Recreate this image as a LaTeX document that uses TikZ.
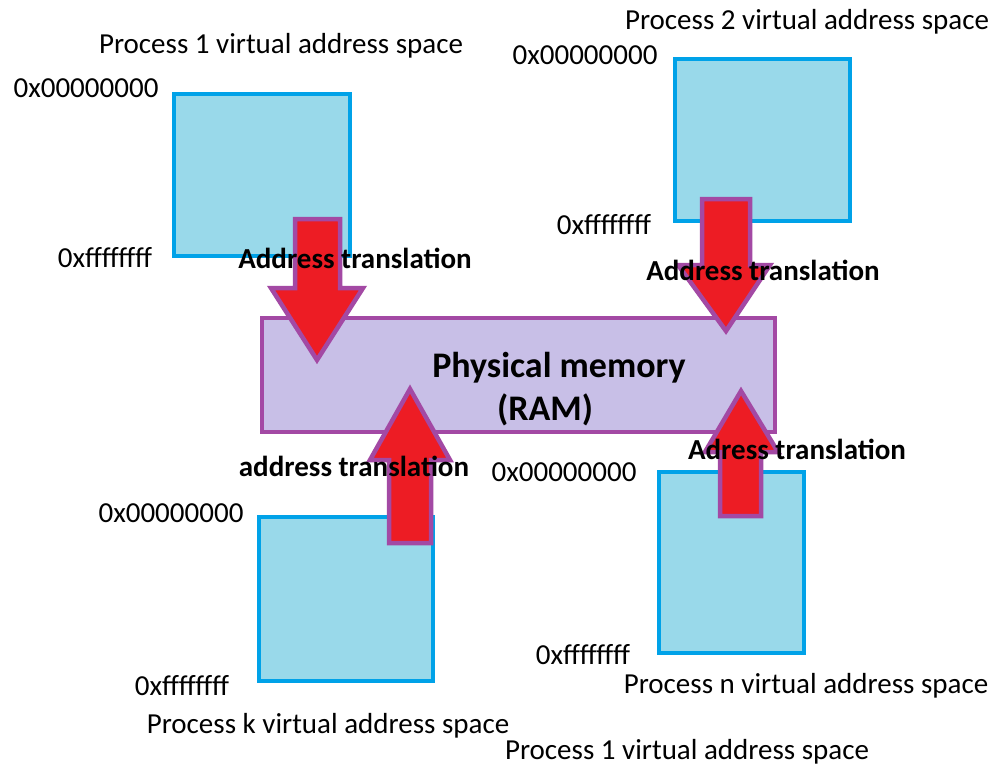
\documentclass[tikz,border=0pt]{standalone}
\usepackage{fontspec}
\setmainfont{Carlito}
\begin{document}
\begin{tikzpicture}[x=1pt,y=-1pt,
  vspace/.style={draw=cyanline,fill=cyanfill,line width=4.5pt},
  ram/.style={draw=purpline,fill=ramfill,line width=4.5pt},
  blockarrow/.style={draw=purpline,fill=arrowred,line width=4.5pt,line join=miter},
  lbl/.style={font=\fontsize{29}{34}\selectfont,inner sep=0pt},
  tlbl/.style={font=\fontsize{29}{34}\selectfont\bfseries,inner sep=0pt},
  biglbl/.style={font=\fontsize{36}{42}\selectfont\bfseries,inner sep=0pt}]
\definecolor{cyanline}{HTML}{00A2E8}
\definecolor{cyanfill}{HTML}{99D9EA}
\definecolor{purpline}{HTML}{A349A4}
\definecolor{ramfill}{HTML}{C8BFE7}
\definecolor{arrowred}{HTML}{ED1C24}
\useasboundingbox[fill=white] (0,0) rectangle (992,765);

% virtual address spaces
\draw[vspace] (174,94) rectangle (350,256);
\node (p1) at (262,175) {};
\draw[vspace] (675,59) rectangle (850,221);
\node (p2) at (762,140) {};
\draw[vspace] (259,517) rectangle (433,681);
\node (pk) at (346,599) {};
\draw[vspace] (659,472) rectangle (804,653);
\node (pn) at (731,562) {};

% physical memory
\draw[ram] (262,318) rectangle (775,432);
\node (ram) at (518,375) {};

% translation arrows
\draw[blockarrow] (295,219) -- (340,219) -- (340,288) -- (363,288) -- (317,360)
  -- (271,288) -- (295,288) -- cycle;
\draw[blockarrow] (702,199) -- (750,199) -- (750,265) -- (770,265) -- (726,331)
  -- (678,265) -- (702,265) -- cycle;
\draw[blockarrow] (389,543) -- (431,543) -- (431,460) -- (450,460) -- (410,389)
  -- (370,460) -- (389,460) -- cycle;
\draw[blockarrow] (720,516) -- (761,516) -- (761,452) -- (778,452) -- (741,391)
  -- (705,452) -- (720,452) -- cycle;

% labels
\node[lbl] (t1) at (281,46) {Process 1 virtual address space};
\node[lbl] (a1) at (86,88) {0x00000000};
\node[lbl] (f1) at (105,258) {0xffffffff};
\node[tlbl] (tr1) at (355,258) {Address translation};

\node[lbl] (t2) at (807,22) {Process 2 virtual address space};
\node[lbl] (a2) at (585,55) {0x00000000};
\node[lbl] (f2) at (604,225) {0xffffffff};
\node[tlbl] (tr2) at (763,270) {Address translation};

\node[biglbl] (phys) at (559,368) {Physical memory};
\node[biglbl] (physram) at (545,410) {(RAM)};

\node[tlbl] (tr3) at (354,466) {address translation};
\node[lbl] (a3) at (564,472) {0x00000000};
\node[tlbl] (tr4) at (797,449) {Adress translation};

\node[lbl] (ak) at (171,513) {0x00000000};
\node[lbl] (fk) at (182,686) {0xffffffff};
\node[lbl] (tk) at (328,726) {Process k virtual address space};

\node[lbl] (fn) at (583,655) {0xffffffff};
\node[lbl] (tn) at (806,686) {Process n virtual address space};
\node[lbl] (t5) at (687,752) {Process 1 virtual address space};
\end{tikzpicture}
\end{document}
